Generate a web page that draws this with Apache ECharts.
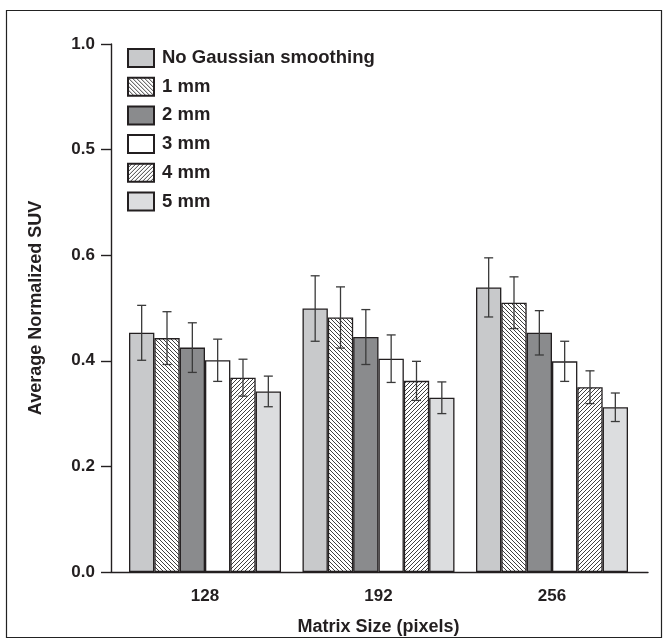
<!DOCTYPE html>
<html>
<head>
<meta charset="utf-8">
<script src="https://cdn.jsdelivr.net/npm/echarts@6/dist/echarts.min.js"></script>
<style>
html,body{margin:0;padding:0;background:#fff;}
#chart{width:669px;height:644px;}
</style>
</head>
<body>
<div id="chart"></div>
<script>
// ---- data ----
var categories = ['128', '192', '256'];
var seriesNames = ['No Gaussian smoothing', '1 mm', '2 mm', '3 mm', '4 mm', '5 mm'];
var noSmoothing = [0.453, 0.499, 0.539];
var mm1 = [0.443, 0.482, 0.510];
var mm2 = [0.425, 0.445, 0.453];
var mm3 = [0.401, 0.404, 0.399];
var mm4 = [0.368, 0.362, 0.350];
var mm5 = [0.342, 0.330, 0.312];
var errNoSmoothing = [0.052, 0.062, 0.056];
var errMm1 = [0.050, 0.058, 0.049];
var errMm2 = [0.047, 0.052, 0.042];
var errMm3 = [0.040, 0.045, 0.038];
var errMm4 = [0.035, 0.037, 0.031];
var errMm5 = [0.029, 0.030, 0.027];
var yTickValues = [0, 0.2, 0.4, 0.6, 0.8, 1.0];
var yTickLabels = ['0.0', '0.2', '0.4', '0.6', '0.5', '1.0'];

var values = [noSmoothing, mm1, mm2, mm3, mm4, mm5];
var errors = [errNoSmoothing, errMm1, errMm2, errMm3, errMm4, errMm5];

// ---- styles ----
function hatch(dir) {
  var c = document.createElement('canvas');
  var s = 4;
  c.width = s; c.height = s;
  var g = c.getContext('2d');
  g.fillStyle = '#ffffff';
  g.fillRect(0, 0, s, s);
  g.strokeStyle = '#2a2a2a';
  g.lineWidth = 0.9;
  g.beginPath();
  if (dir === 'back') {
    for (var k = -1; k <= 1; k++) {
      g.moveTo(k * s, 0); g.lineTo(k * s + s, s);
    }
  } else {
    for (var k2 = -1; k2 <= 1; k2++) {
      g.moveTo(k2 * s, s); g.lineTo(k2 * s + s, 0);
    }
  }
  g.stroke();
  return { image: c, repeat: 'repeat' };
}
var fills = ['#c8c9cb', hatch('back'), '#8a8b8d', '#ffffff', hatch('fwd'), '#dcdddf'];
var FONT = "'Liberation Sans', Arial, Helvetica, sans-serif";
var ink = '#231f20';
var catGap = 0.124;

var series = [];
seriesNames.forEach(function (name, i) {
  series.push({
    name: name,
    type: 'bar',
    xAxisIndex: 1,
    yAxisIndex: 1,
    data: values[i],
    barGap: '0%',
    barCategoryGap: (catGap * 100) + '%',
    itemStyle: { color: fills[i], borderColor: ink, borderWidth: 1.3 },
    emphasis: { disabled: true },
    z: 2
  });
});
seriesNames.forEach(function (name, i) {
  var d = categories.map(function (c, j) {
    return [j, values[i][j] - errors[i][j], values[i][j] + errors[i][j]];
  });
  series.push({
    type: 'custom',
    xAxisIndex: 1,
    yAxisIndex: 1,
    data: d,
    z: 5,
    silent: true,
    renderItem: function (params, api) {
      var band = api.size([1, 0])[0];
      var bw = band * (1 - catGap) / seriesNames.length;
      var base = api.coord([api.value(0), api.value(1)]);
      var top = api.coord([api.value(0), api.value(2)]);
      var x = base[0] + (i - (seriesNames.length - 1) / 2) * bw;
      var cap = 4.5;
      var st = { stroke: '#3a3a3a', lineWidth: 1.3, fill: null };
      return {
        type: 'group',
        children: [
          { type: 'line', shape: { x1: x, y1: base[1], x2: x, y2: top[1] }, style: st },
          { type: 'line', shape: { x1: x - cap, y1: base[1], x2: x + cap, y2: base[1] }, style: st },
          { type: 'line', shape: { x1: x - cap, y1: top[1], x2: x + cap, y2: top[1] }, style: st }
        ]
      };
    }
  });
});

var chart = echarts.init(document.getElementById('chart'), null, { renderer: 'canvas' });
chart.setOption({
  backgroundColor: '#ffffff',
  animation: false,
  graphic: [{
    type: 'rect',
    shape: { x: 6.5, y: 10.5, width: 655, height: 627 },
    style: { fill: null, stroke: '#222', lineWidth: 1.2 },
    z: 0
  }],
  legend: {
    orient: 'vertical',
    left: 127,
    top: 48,
    padding: 0,
    icon: 'rect',
    itemWidth: 26,
    itemHeight: 18,
    itemGap: 8.7,
    data: seriesNames,
    selectedMode: false,
    textStyle: { fontFamily: FONT, fontWeight: 'bold', fontSize: 18.5, color: ink, padding: [0, 0, 0, 3] }
  },
  grid: [
    { left: 111, right: 21, top: 44, bottom: 72 },
    { left: 118.25, right: 30.25, top: 44, bottom: 72 }
  ],
  xAxis: [
    {
      gridIndex: 0, type: 'value', min: 0, max: 1,
      axisLine: { show: true, lineStyle: { color: ink, width: 1.4 } },
      axisTick: { show: false }, axisLabel: { show: false }, splitLine: { show: false }
    },
    {
      gridIndex: 1, type: 'category', data: categories,
      axisLine: { show: false }, axisTick: { show: false },
      axisLabel: { fontFamily: FONT, fontWeight: 'bold', fontSize: 17, color: ink, margin: 16 },
      name: 'Matrix Size (pixels)', nameLocation: 'middle', nameGap: 46,
      nameTextStyle: { fontFamily: FONT, fontWeight: 'bold', fontSize: 18, color: ink }
    }
  ],
  yAxis: [
    {
      gridIndex: 0, type: 'value', min: 0, max: 1, interval: 0.2,
      axisLine: { show: true, lineStyle: { color: ink, width: 1.4 } },
      axisTick: { show: true, length: 10, lineStyle: { color: ink, width: 1.4 } },
      splitLine: { show: false },
      axisLabel: {
        fontFamily: FONT, fontWeight: 'bold', fontSize: 17, color: ink, margin: 16,
        formatter: function (v) {
          var k = yTickValues.findIndex(function (t) { return Math.abs(t - v) < 1e-6; });
          return k >= 0 ? yTickLabels[k] : '';
        }
      },
      name: 'Average Normalized SUV', nameLocation: 'middle', nameGap: 66,
      nameTextStyle: { fontFamily: FONT, fontWeight: 'bold', fontSize: 18, color: ink }
    },
    {
      gridIndex: 1, type: 'value', min: 0, max: 1, show: false
    }
  ],
  series: series
});
</script>
</body>
</html>
